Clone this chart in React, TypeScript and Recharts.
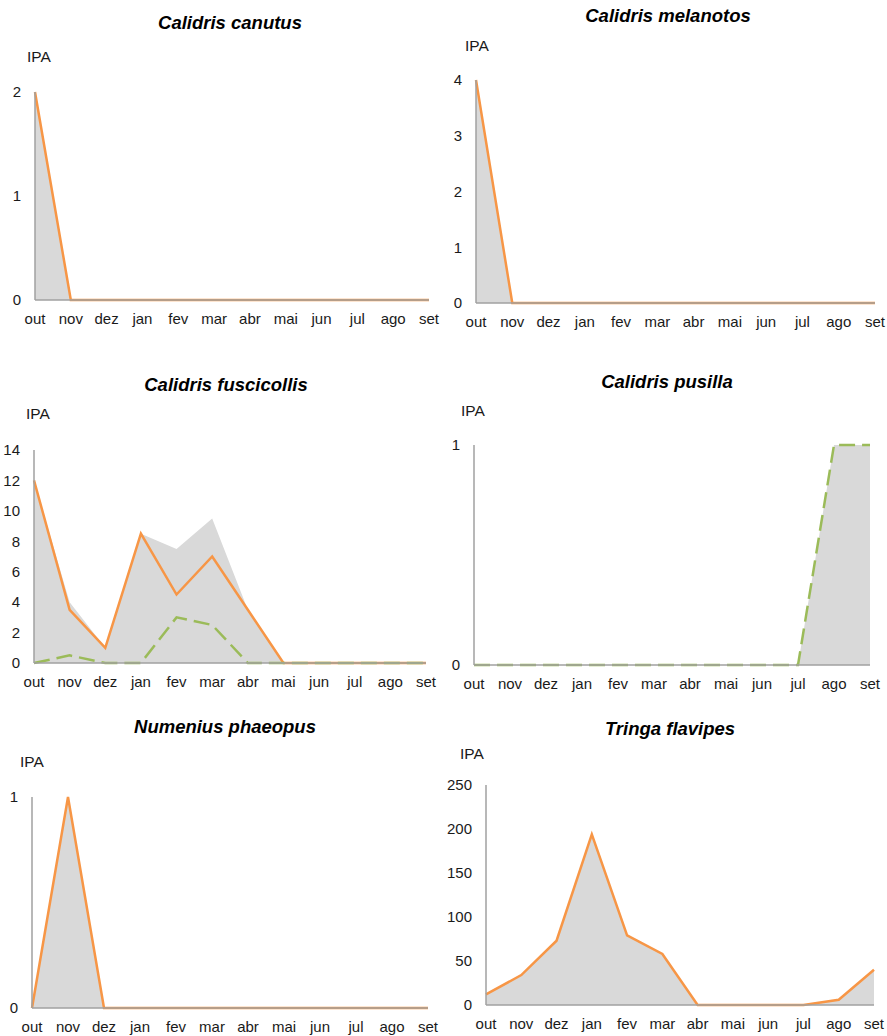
import { ComposedChart, Area, Line, XAxis, YAxis } from 'recharts';

const meses = ['out', 'nov', 'dez', 'jan', 'fev', 'mar', 'abr', 'mai', 'jun', 'jul', 'ago', 'set'];

// Calidris canutus
const canutusTicks = [0, 1, 2];
const canutusTotal = [2, 0, 0, 0, 0, 0, 0, 0, 0, 0, 0, 0];
const canutusLaranja = [2, 0, 0, 0, 0, 0, 0, 0, 0, 0, 0, 0];

// Calidris melanotos
const melanotosTicks = [0, 1, 2, 3, 4];
const melanotosTotal = [4, 0, 0, 0, 0, 0, 0, 0, 0, 0, 0, 0];
const melanotosLaranja = [4, 0, 0, 0, 0, 0, 0, 0, 0, 0, 0, 0];

// Calidris fuscicollis
const fuscicollisTicks = [0, 2, 4, 6, 8, 10, 12, 14];
const fuscicollisTotal = [12, 4, 1, 8.5, 7.5, 9.5, 3.5, 0, 0, 0, 0, 0];
const fuscicollisLaranja = [12, 3.5, 1, 8.5, 4.5, 7, 3.5, 0, 0, 0, 0, 0];
const fuscicollisVerde = [0, 0.5, 0, 0, 3, 2.5, 0, 0, 0, 0, 0, 0];

// Calidris pusilla
const pusillaTicks = [0, 1];
const pusillaTotal = [0, 0, 0, 0, 0, 0, 0, 0, 0, 0, 1, 1];
const pusillaVerde = [0, 0, 0, 0, 0, 0, 0, 0, 0, 0, 1, 1];

// Numenius phaeopus
const phaeopusTicks = [0, 1];
const phaeopusTotal = [0, 1, 0, 0, 0, 0, 0, 0, 0, 0, 0, 0];
const phaeopusLaranja = [0, 1, 0, 0, 0, 0, 0, 0, 0, 0, 0, 0];

// Tringa flavipes
const flavipesTicks = [0, 50, 100, 150, 200, 250];
const flavipesTotal = [12, 34, 73, 194, 79, 58, 0, 0, 0, 0, 6, 40];
const flavipesLaranja = [12, 34, 73, 194, 79, 58, 0, 0, 0, 0, 6, 40];

const FONT = '"Liberation Sans", Arial, sans-serif';
const EIXO = '#a0a0a0';
const LARANJA = '#f79646';
const VERDE = '#9bbb59';
const CINZA = '#d9d9d9';
const TEXTO = '#1a1a1a';

type Frame = { x0: number; x1: number; yTop: number; yBottom: number };

type PainelProps = {
  titulo: string;
  tituloPos: [number, number];
  ipaPos: [number, number];
  frame: Frame;
  ticks: number[];
  total: number[];
  laranja?: number[];
  verde?: number[];
};

function Painel({ titulo, tituloPos, ipaPos, frame, ticks, total, laranja, verde }: PainelProps) {
  const yw = 50;
  const mt = 10;
  const mr = 16;
  const xh = 30;
  const data = meses.map((mes, i) => ({
    mes,
    total: total[i],
    laranja: laranja ? laranja[i] : null,
    verde: verde ? verde[i] : null,
  }));
  const width = frame.x1 - frame.x0 + yw + mr;
  const height = frame.yBottom - frame.yTop + mt + xh;
  const tick = { fill: TEXTO, fontSize: 15, fontFamily: FONT };

  return (
    <>
      <div
        style={{
          position: 'absolute',
          left: tituloPos[0],
          top: tituloPos[1],
          transform: 'translate(-50%, -50%)',
          fontFamily: FONT,
          fontStyle: 'italic',
          fontWeight: 'bold',
          fontSize: 18.5,
          whiteSpace: 'nowrap',
          color: '#000',
        }}
      >
        {titulo}
      </div>
      <div
        style={{
          position: 'absolute',
          left: ipaPos[0],
          top: ipaPos[1],
          transform: 'translateY(-50%)',
          fontFamily: FONT,
          fontSize: 15.5,
          color: TEXTO,
        }}
      >
        IPA
      </div>
      <div style={{ position: 'absolute', left: frame.x0 - yw, top: frame.yTop - mt }}>
        <ComposedChart width={width} height={height} data={data} margin={{ top: mt, right: mr, left: 0, bottom: 0 }}>
          <XAxis
            dataKey="mes"
            scale="point"
            padding={{ left: 0, right: 0 }}
            interval={0}
            height={xh}
            tickLine={false}
            axisLine={{ stroke: EIXO, strokeWidth: 1.5 }}
            tick={tick}
            tickMargin={7}
          />
          <YAxis
            width={yw}
            domain={[0, ticks[ticks.length - 1]]}
            ticks={ticks}
            interval={0}
            tickLine={false}
            axisLine={{ stroke: EIXO, strokeWidth: 1.5 }}
            tick={tick}
            tickMargin={8}
          />
          <Area
            dataKey="total"
            type="linear"
            fill={CINZA}
            fillOpacity={1}
            stroke="none"
            dot={false}
            activeDot={false}
            isAnimationActive={false}
          />
          {laranja && (
            <Line
              dataKey="laranja"
              type="linear"
              stroke={LARANJA}
              strokeWidth={2.5}
              dot={false}
              activeDot={false}
              isAnimationActive={false}
            />
          )}
          {verde && (
            <Line
              dataKey="verde"
              type="linear"
              stroke={VERDE}
              strokeWidth={2.5}
              strokeDasharray="16 7"
              dot={false}
              activeDot={false}
              isAnimationActive={false}
            />
          )}
        </ComposedChart>
      </div>
    </>
  );
}

export default function App() {
  return (
    <div
      style={{
        position: 'absolute',
        left: 0,
        top: 0,
        width: 887,
        height: 1036,
        background: '#fff',
        overflow: 'hidden',
      }}
    >
      <Painel
        titulo="Calidris canutus"
        tituloPos={[230, 23]}
        ipaPos={[27, 57]}
        frame={{ x0: 35, x1: 429, yTop: 92, yBottom: 300 }}
        ticks={canutusTicks}
        total={canutusTotal}
        laranja={canutusLaranja}
      />
      <Painel
        titulo="Calidris melanotos"
        tituloPos={[668, 16]}
        ipaPos={[465, 46]}
        frame={{ x0: 476, x1: 875, yTop: 80, yBottom: 303 }}
        ticks={melanotosTicks}
        total={melanotosTotal}
        laranja={melanotosLaranja}
      />
      <Painel
        titulo="Calidris fuscicollis"
        tituloPos={[226, 385]}
        ipaPos={[26, 414]}
        frame={{ x0: 34, x1: 426, yTop: 450, yBottom: 663 }}
        ticks={fuscicollisTicks}
        total={fuscicollisTotal}
        laranja={fuscicollisLaranja}
        verde={fuscicollisVerde}
      />
      <Painel
        titulo="Calidris pusilla"
        tituloPos={[667, 382]}
        ipaPos={[461, 411]}
        frame={{ x0: 474, x1: 870, yTop: 445, yBottom: 665 }}
        ticks={pusillaTicks}
        total={pusillaTotal}
        verde={pusillaVerde}
      />
      <Painel
        titulo="Numenius phaeopus"
        tituloPos={[225, 727]}
        ipaPos={[20, 762]}
        frame={{ x0: 32, x1: 428, yTop: 797, yBottom: 1008 }}
        ticks={phaeopusTicks}
        total={phaeopusTotal}
        laranja={phaeopusLaranja}
      />
      <Painel
        titulo="Tringa flavipes"
        tituloPos={[670, 729]}
        ipaPos={[460, 754]}
        frame={{ x0: 486, x1: 874, yTop: 785, yBottom: 1005 }}
        ticks={flavipesTicks}
        total={flavipesTotal}
        laranja={flavipesLaranja}
      />
    </div>
  );
}
